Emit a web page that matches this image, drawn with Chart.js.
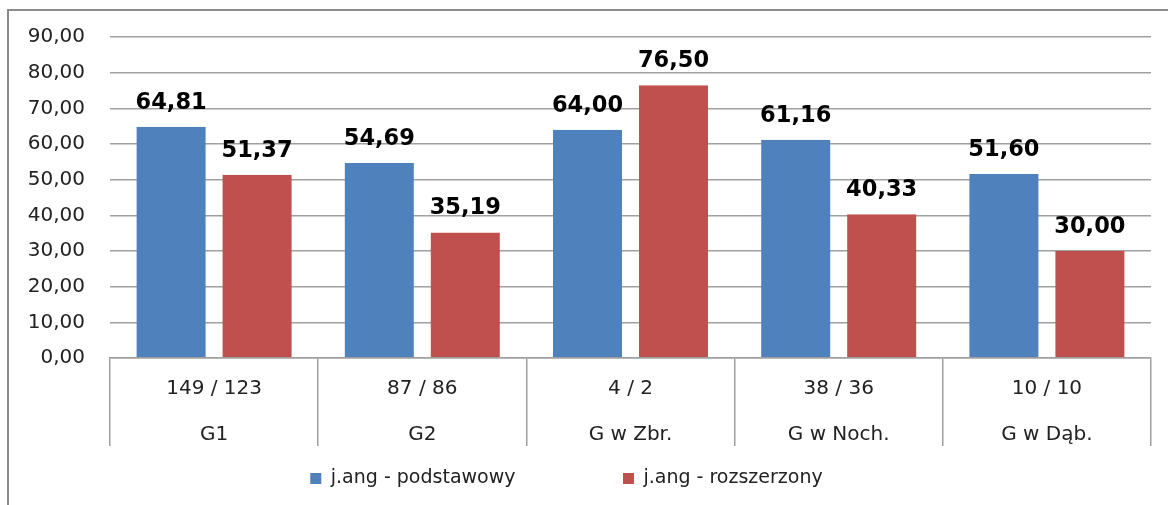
<!DOCTYPE html>
<html>
<head>
<meta charset="utf-8">
<script src="https://cdn.jsdelivr.net/npm/chart.js@4"></script>
<style>
  body { margin: 0; background: #fff; }
  #wrap { position: relative; width: 1168px; height: 505px; }
  #frame { position: absolute; left: 7px; top: 9px; right: -4px; bottom: -4px;
           border-top: 2px solid #8c8c8c; border-left: 2px solid #8c8c8c; pointer-events: none; }
</style>
</head>
<body>
<div id="wrap">
  <canvas id="myBarChart" width="1168" height="505"></canvas>
  <div id="frame"></div>
</div>
<script>
// counts of students (basic / extended) and school names
var counts = ["149 / 123", "87 / 86", "4 / 2", "38 / 36", "10 / 10"];
var schools = ["G1", "G2", "G w Zbr.", "G w Noch.", "G w Dąb."];

var basicScores = [64.81, 54.69, 64.00, 61.16, 51.60];
var extendedScores = [51.37, 35.19, 76.50, 40.33, 30.00];

var seriesNames = ["j.ang - podstawowy", "j.ang - rozszerzony"];

function plNum(v) {
    return Number(v).toFixed(2).replace('.', ',');
}

// values above the bars
var valueLabels = {
    id: 'valueLabels',
    afterDatasetsDraw: function(chart) {
        var ctx = chart.ctx;
        ctx.save();
        ctx.font = 'bold 22.5px "DejaVu Sans"';
        ctx.fillStyle = '#000';
        ctx.textAlign = 'center';
        ctx.textBaseline = 'alphabetic';
        chart.data.datasets.forEach(function(ds, i) {
            chart.getDatasetMeta(i).data.forEach(function(bar, j) {
                ctx.fillText(plNum(ds.data[j]), bar.x, bar.y - 18);
            });
        });
        ctx.restore();
    }
};

var ctx = document.getElementById('myBarChart').getContext('2d');
var chart = new Chart(ctx, {
    type: 'bar',
    data: {
        labels: counts.map(function(c, i) { return [c, schools[i]]; }),
        datasets: [
            {
                label: seriesNames[0],
                data: basicScores,
                backgroundColor: '#4f81bd',
                borderColor: 'rgba(0,0,0,0)',
                borderWidth: {left: 8.5, right: 8.5, top: 0, bottom: 0},
            },
            {
                label: seriesNames[1],
                data: extendedScores,
                backgroundColor: '#c0504d',
                borderColor: 'rgba(0,0,0,0)',
                borderWidth: {left: 8.5, right: 8.5, top: 0, bottom: 0},
            },
        ]
    },
    options: {
        responsive: false,
        animation: false,
        events: [],
        layout: { padding: { top: 35, right: 17, bottom: 7, left: -18 } },
        datasets: {
            bar: { categoryPercentage: 0.826, barPercentage: 1 }
        },
        scales: {
            x: {
                afterFit: function(s) { s.height = 3.5; },
                border: { display: true, color: '#a0a0a0', width: 1.5 },
                grid: {
                    offset: true,
                    drawOnChartArea: false,
                    drawTicks: true,
                    tickLength: 88,
                    color: '#a0a0a0',
                    lineWidth: 1.5,
                },
                ticks: {
                    mirror: true,
                    padding: -54,
                    color: '#222',
                    font: { family: '"DejaVu Sans"', size: 20, lineHeight: 2.3 },
                    maxRotation: 0,
                    autoSkip: false,
                }
            },
            y: {
                min: 0,
                max: 90,
                afterFit: function(s) { s.width = 128; },
                border: { display: false },
                grid: { drawTicks: false, color: '#a0a0a0', lineWidth: 1.5 },
                ticks: {
                    stepSize: 10,
                    padding: 25,
                    color: '#222',
                    font: { family: '"DejaVu Sans"', size: 20 },
                    callback: function(v) { return plNum(v); }
                }
            }
        },
        plugins: {
            tooltip: { enabled: false },
            legend: {
                position: 'bottom',
                labels: {
                    boxWidth: 11,
                    boxHeight: 11,
                    padding: 107.5,
                    color: '#222',
                    font: { family: '"DejaVu Sans"', size: 19 }
                }
            }
        }
    },
    plugins: [valueLabels]
});
</script>
</body>
</html>
